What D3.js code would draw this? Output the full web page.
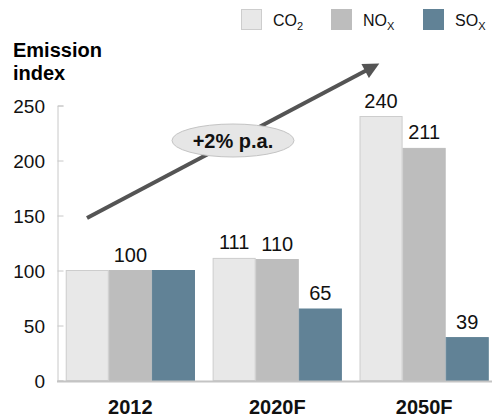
<!DOCTYPE html>
<html>
<head>
<meta charset="utf-8">
<script src="https://cdn.jsdelivr.net/npm/d3@7"></script>
<style>
  body { margin: 0; background: #fff; }
  svg { font-family: "Liberation Sans", Arial, Helvetica, sans-serif; }
</style>
</head>
<body>
<div id="chart"></div>
<script>
const width = 492;
const height = 420;

// data
const years = ["2012", "2020F", "2050F"];
const series = ["CO2", "NOx", "SOx"];
const co2 = [100, 111, 240];
const nox = [100, 110, 211];
const sox = [100, 65, 39];
// 2012 shows one shared label
const co2Labels = [null, "111", "240"];
const noxLabels = ["100", "110", "211"];
const soxLabels = [null, "65", "39"];
const yTicks = [0, 50, 100, 150, 200, 250];

const colors = { CO2: "#e8e8e8", NOx: "#bdbdbd", SOx: "#618296" };
const strokes = { CO2: "#cdcdcd", NOx: "#bdbdbd", SOx: "#618296" };

const rows = years.map((year, i) => ({
  year,
  values: [
    { key: "CO2", value: co2[i], label: co2Labels[i] },
    { key: "NOx", value: nox[i], label: noxLabels[i] },
    { key: "SOx", value: sox[i], label: soxLabels[i] },
  ],
}));

const svg = d3
  .select("#chart")
  .append("svg")
  .attr("width", width)
  .attr("height", height);

const x0 = d3
  .scaleBand()
  .domain(years)
  .range([57.5, 497])
  .paddingInner(0.12)
  .paddingOuter(0.056);

const x1 = d3.scaleBand().domain(series).range([0, x0.bandwidth()]);

const y = d3.scaleLinear().domain([0, 250]).range([380.5, 105.5]);

// y axis
const yAxis = svg
  .append("g")
  .attr("transform", "translate(57.5,0)")
  .call(d3.axisRight(y).tickValues(yTicks).tickSize(6).tickFormat(""));
yAxis.select(".domain").attr("stroke", "#c8c8c8");
yAxis.selectAll(".tick line").attr("stroke", "#c8c8c8");

svg
  .append("g")
  .selectAll("text")
  .data(yTicks)
  .join("text")
  .attr("x", 45)
  .attr("y", (d) => y(d) + 7)
  .attr("text-anchor", "end")
  .style("font-size", "19px")
  .attr("fill", "#111")
  .text((d) => d);

// title
svg
  .append("text")
  .attr("x", 13)
  .attr("y", 57)
  .style("font-size", "20px")
  .style("font-weight", "bold")
  .text("Emission");
svg
  .append("text")
  .attr("x", 13)
  .attr("y", 80)
  .style("font-size", "20px")
  .style("font-weight", "bold")
  .text("index");

// bars
const groups = svg
  .append("g")
  .selectAll("g")
  .data(rows)
  .join("g")
  .attr("transform", (d) => `translate(${x0(d.year)},0)`);

groups
  .selectAll("rect")
  .data((d) => d.values)
  .join("rect")
  .attr("x", (d) => x1(d.key) + 0.5)
  .attr("y", (d) => y(d.value))
  .attr("width", x1.bandwidth() - 1)
  .attr("height", (d) => y(0) - y(d.value))
  .attr("fill", (d) => colors[d.key])
  .attr("stroke", (d) => strokes[d.key])
  .attr("stroke-width", 1);

groups
  .selectAll("text")
  .data((d) => d.values.filter((v) => v.label))
  .join("text")
  .attr("x", (d) => x1(d.key) + x1.bandwidth() / 2)
  .attr("y", (d) => y(d.value) - 9)
  .attr("text-anchor", "middle")
  .style("font-size", "20px")
  .attr("fill", "#111")
  .text((d) => d.label);

// x axis line
svg
  .append("line")
  .attr("x1", 57)
  .attr("x2", 492)
  .attr("y1", y(0) + 1)
  .attr("y2", y(0) + 1)
  .attr("stroke", "#c4c4c4")
  .attr("stroke-width", 2);

svg
  .append("g")
  .selectAll("text")
  .data(years)
  .join("text")
  .attr("x", (d) => x0(d) + x0.bandwidth() / 2)
  .attr("y", 414)
  .attr("text-anchor", "middle")
  .style("font-size", "20px")
  .style("font-weight", "bold")
  .attr("fill", "#111")
  .text((d) => d);

// trend arrow
const defs = svg.append("defs");
defs
  .append("marker")
  .attr("id", "head")
  .attr("viewBox", "0 0 10 10")
  .attr("refX", 2)
  .attr("refY", 5)
  .attr("markerWidth", 4.5)
  .attr("markerHeight", 4)
  .attr("orient", "auto")
  .append("path")
  .attr("d", "M0,0 L10,5 L0,10 Z")
  .attr("fill", "#545454");

svg
  .append("line")
  .attr("x1", 87)
  .attr("y1", 218)
  .attr("x2", 368)
  .attr("y2", 69.5)
  .attr("stroke", "#545454")
  .attr("stroke-width", 4)
  .attr("marker-end", "url(#head)");

svg
  .append("ellipse")
  .attr("cx", 233)
  .attr("cy", 140.5)
  .attr("rx", 61)
  .attr("ry", 16.5)
  .attr("fill", "#e6e6e6")
  .attr("stroke", "#c4c4c4");

svg
  .append("text")
  .attr("x", 233)
  .attr("y", 147.5)
  .attr("text-anchor", "middle")
  .style("font-size", "20px")
  .style("font-weight", "bold")
  .attr("fill", "#111")
  .text("+2% p.a.");

// legend
const legendItems = [
  { key: "CO2", base: "CO", sub: "2", x: 241 },
  { key: "NOx", base: "NO", sub: "X", x: 331 },
  { key: "SOx", base: "SO", sub: "X", x: 423 },
];

const legend = svg
  .append("g")
  .selectAll("g")
  .data(legendItems)
  .join("g")
  .attr("transform", (d) => `translate(${d.x},9)`);

legend
  .append("rect")
  .attr("x", 0.5)
  .attr("y", 0.5)
  .attr("width", 20)
  .attr("height", 20)
  .attr("fill", (d) => colors[d.key])
  .attr("stroke", (d) => strokes[d.key]);

const lt = legend
  .append("text")
  .attr("x", 32)
  .attr("y", 17)
  .style("font-size", "16px")
  .attr("fill", "#111");
lt.append("tspan").text((d) => d.base);
lt.append("tspan")
  .attr("dy", 4)
  .style("font-size", "11px")
  .text((d) => d.sub);
</script>
</body>
</html>
